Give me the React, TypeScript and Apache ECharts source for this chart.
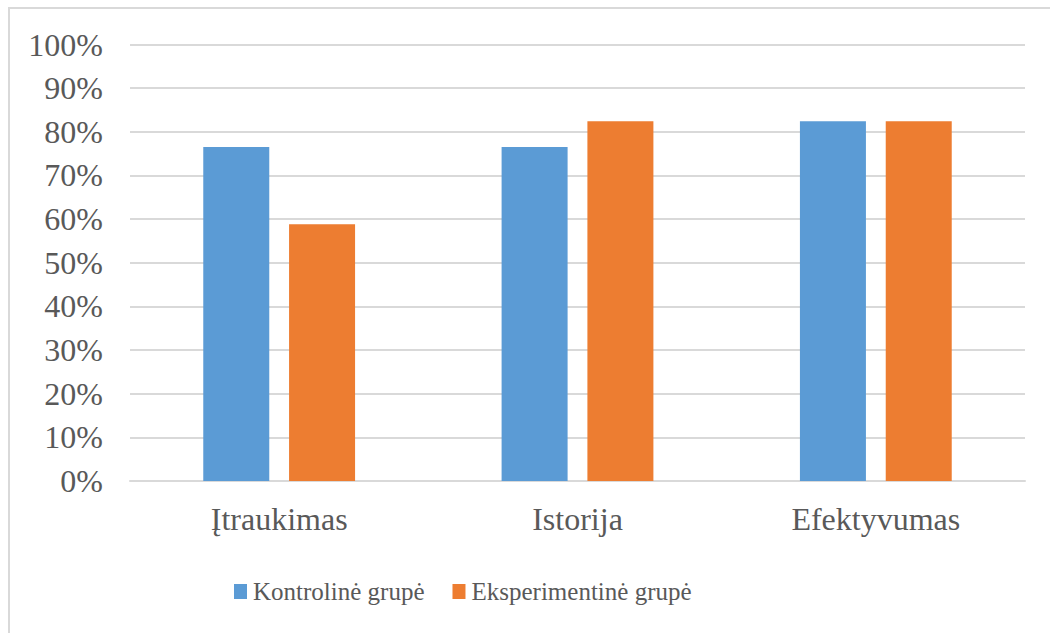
import React, { useEffect, useRef } from "react";
import * as echarts from "echarts";

const categories = ["Įtraukimas", "Istorija", "Efektyvumas"];
const seriesNames = ["Kontrolinė grupė", "Eksperimentinė grupė"];
const controlValues = [76.5, 76.5, 82.4];
const experimentValues = [58.8, 82.4, 82.4];
const colors = ["#5B9BD5", "#ED7D31"];

const FONT = "'Liberation Serif', 'Times New Roman', serif";
const TEXT_COLOR = "#595959";
const GRID_COLOR = "#d9d9d9";

export default function App() {
  const ref = useRef<HTMLDivElement>(null);

  useEffect(() => {
    if (!ref.current) return;
    const chart = echarts.init(ref.current, undefined, { renderer: "svg" });
    chart.setOption({
      animation: false,
      backgroundColor: "#ffffff",
      color: colors,
      textStyle: { fontFamily: FONT },
      graphic: [
        {
          type: "rect",
          shape: { x: 9, y: 8, width: 1100, height: 700 },
          style: { fill: "none", stroke: GRID_COLOR, lineWidth: 2 },
          silent: true,
        },
      ],
      grid: { left: 130, right: 25, top: 44.5, bottom: 152, containLabel: false },
      legend: {
        left: 229,
        top: 574,
        icon: "rect",
        itemWidth: 13,
        itemHeight: 15,
        itemGap: 28,
        textStyle: { fontFamily: FONT, fontSize: 25, color: TEXT_COLOR, padding: [0, 0, 0, 1] },
        data: seriesNames,
      },
      xAxis: {
        type: "category",
        data: categories,
        axisLine: { show: true, lineStyle: { color: GRID_COLOR, width: 2 } },
        axisTick: { show: false },
        axisLabel: { fontFamily: FONT, fontSize: 32, color: TEXT_COLOR, margin: 22 },
      },
      yAxis: {
        type: "value",
        min: 0,
        max: 100,
        interval: 10,
        axisLine: { show: false },
        axisTick: { show: false },
        splitLine: { lineStyle: { color: GRID_COLOR, width: 2 } },
        axisLabel: {
          fontFamily: FONT,
          fontSize: 32,
          color: TEXT_COLOR,
          margin: 27,
          formatter: (v: number) => `${v}%`,
        },
      },
      series: [
        {
          name: seriesNames[0],
          type: "bar",
          data: controlValues,
          barWidth: 66,
          barGap: "30%",
        },
        {
          name: seriesNames[1],
          type: "bar",
          data: experimentValues,
          barWidth: 66,
          barGap: "30%",
        },
      ],
    });
    return () => chart.dispose();
  }, []);

  return (
    <div
      ref={ref}
      style={{ position: "fixed", left: 0, top: 0, width: 1050, height: 633 }}
    />
  );
}
